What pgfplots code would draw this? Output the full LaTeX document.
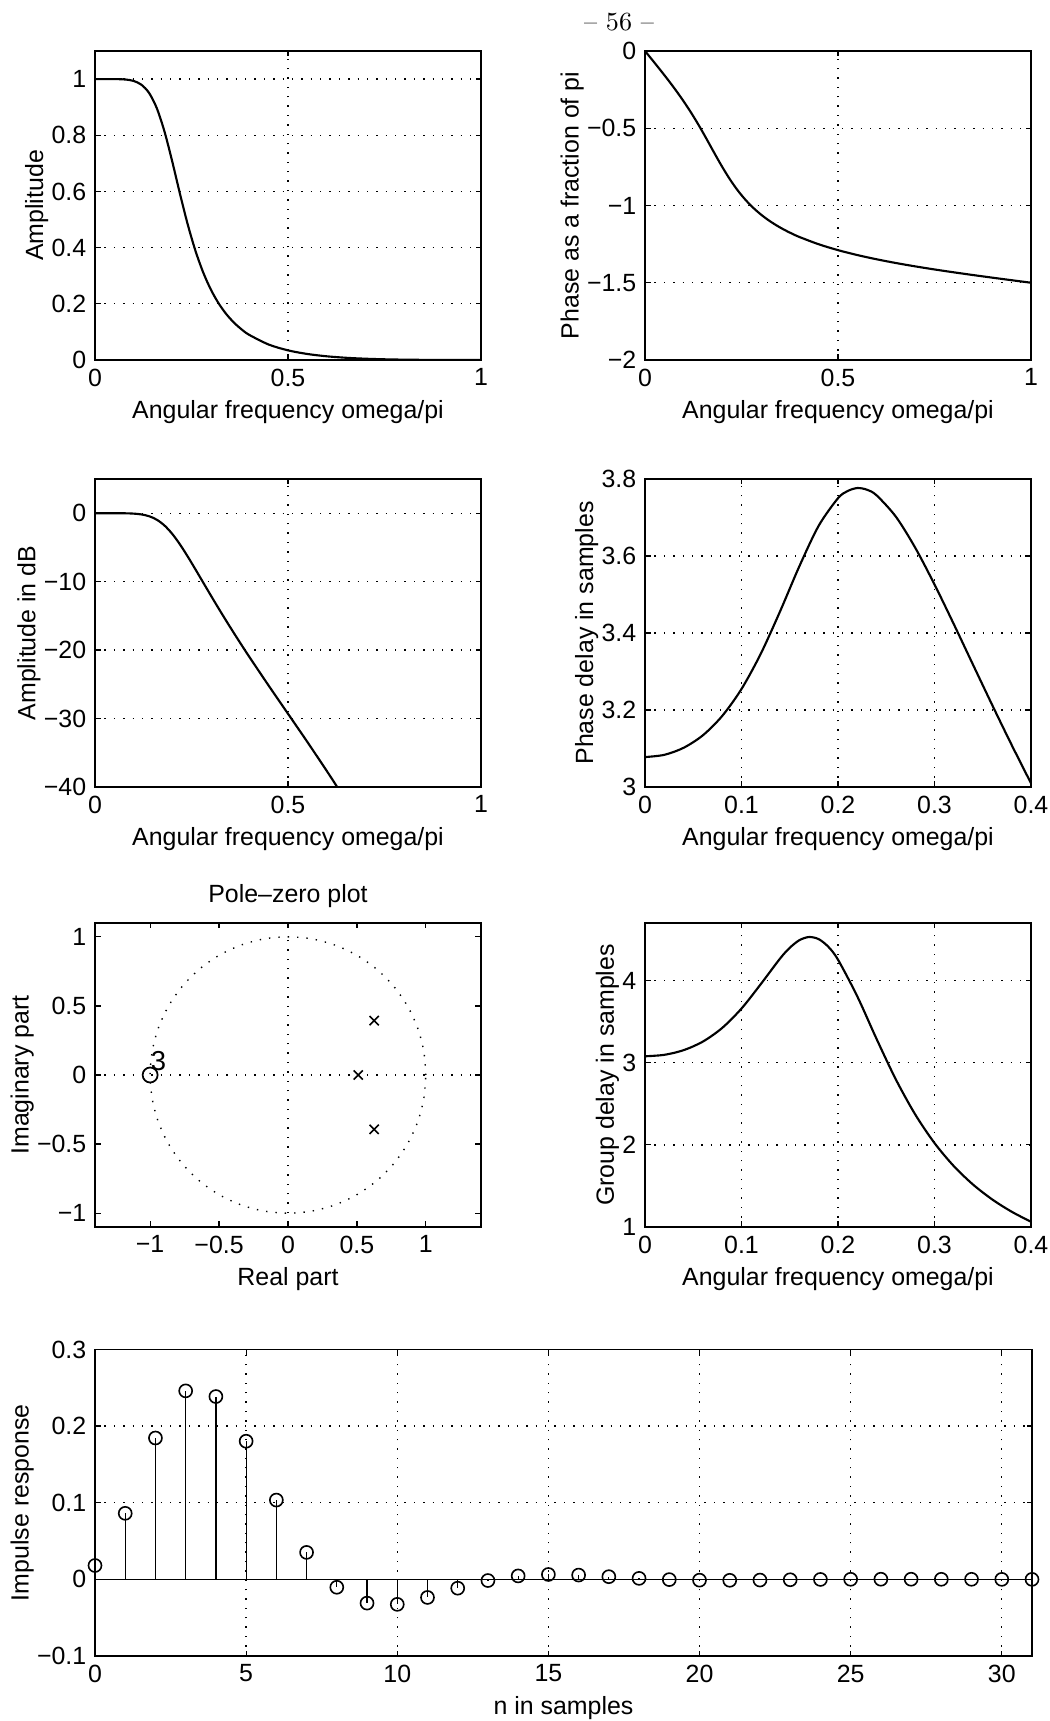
\documentclass[border=0pt]{standalone}
\usepackage{fontspec}
\usepackage{pgfplots}
\pgfplotsset{compat=1.18}
\newfontfamily\arial{Liberation Sans}
\newcommand\lab{\arial\fontsize{10}{12}\selectfont}
\pgfplotsset{
 mat/.style={
  scale only axis, width=154.4bp, anchor=south west,
  axis line style={line width=0.6bp},
  tick align=inside, major tick length=2.2bp,
  tick style={black, line width=0.5bp},
  xtick pos=both, ytick pos=both,
  xmajorgrids, ymajorgrids,
  major grid style={black, line width=0.55bp, dash pattern=on 0.55bp off 3.2bp},
  tick label style={font=\lab},
  label style={font=\lab},
  ylabel shift=-5.5bp, xlabel shift=-1.2bp,
  every axis title/.style={at={(0.5,1)}, anchor=base, yshift=8bp, font=\lab},
  every axis plot/.append style={black, line width=0.85bp},
 }
}
\begin{document}
\begin{tikzpicture}
\path[use as bounding box] (0bp,0bp) rectangle (420bp,688.4bp);
\node[font=\fontsize{10.5}{12}\selectfont, anchor=base] at (247.6bp,676.3bp) {\textendash\ 56 \textendash};

% 1 Amplitude
\begin{axis}[mat, at={(38bp,544.4bp)}, height=123.6bp,
  xmin=0, xmax=1, ymin=0, ymax=1.1,
  xtick={0,0.5,1}, xticklabels={0,0.5,1},
  ytick={0,0.2,0.4,0.6,0.8,1}, yticklabels={0,0.2,0.4,0.6,0.8,1},
  xlabel={Angular frequency omega/pi}, ylabel={Amplitude}]
\addplot[smooth] coordinates {(0,1) (0.02,1) (0.04,0.99997) (0.06,0.9997) (0.08,0.99828) (0.10,0.9934) (0.12,0.98013) (0.14,0.95083) (0.16,0.89668) (0.18,0.81336) (0.20,0.70711) (0.22,0.59229) (0.24,0.48372) (0.26,0.38982) (0.28,0.3127) (0.30,0.25102) (0.32,0.20219) (0.34,0.16361) (0.36,0.13302) (0.38,0.10864) (0.40,0.08909) (0.45,0.05498) (0.50,0.03428) (0.55,0.02137) (0.60,0.01316) (0.65,0.00789) (0.70,0.00454) (0.75,0.00244) (0.80,0.00118) (0.85,0.00048) (0.90,0.00014) (0.95,0.00002) (1,0)};
\end{axis}

% 2 Phase
\begin{axis}[mat, at={(258bp,544.4bp)}, height=123.6bp,
  xmin=0, xmax=1, ymin=-2, ymax=0,
  xtick={0,0.5,1}, xticklabels={0,0.5,1},
  ytick={-2,-1.5,-1,-0.5,0}, yticklabels={−2,−1.5,−1,−0.5,0},
  xlabel={Angular frequency omega/pi}, ylabel={Phase as a fraction of pi}]
\addplot[smooth] coordinates {(0,0) (0.02,-0.06167) (0.04,-0.12407) (0.06,-0.18806) (0.08,-0.25476) (0.10,-0.32545) (0.12,-0.40155) (0.14,-0.48389) (0.16,-0.57177) (0.18,-0.66215) (0.20,-0.75) (0.22,-0.83082) (0.24,-0.90179) (0.26,-0.96253) (0.28,-1.01405) (0.30,-1.05784) (0.32,-1.09537) (0.34,-1.12786) (0.36,-1.15629) (0.38,-1.18143) (0.40,-1.20389) (0.45,-1.25107) (0.50,-1.28909) (0.55,-1.32087) (0.60,-1.34823) (0.65,-1.37237) (0.70,-1.39411) (0.75,-1.41406) (0.80,-1.43267) (0.85,-1.45029) (0.90,-1.46723) (0.95,-1.48372) (1,-1.5)};
\end{axis}

% 3 dB
\begin{axis}[mat, at={(38bp,373.6bp)}, height=123.2bp,
  xmin=0, xmax=1, ymin=-40, ymax=5,
  xtick={0,0.5,1}, xticklabels={0,0.5,1},
  ytick={-40,-30,-20,-10,0}, yticklabels={−40,−30,−20,−10,0},
  xlabel={Angular frequency omega/pi}, ylabel={Amplitude in dB}]
\addplot[smooth] coordinates {(0,0) (0.02,0) (0.04,-0.0002) (0.06,-0.0026) (0.08,-0.015) (0.10,-0.0579) (0.12,-0.1743) (0.14,-0.4379) (0.16,-0.9474) (0.18,-1.7943) (0.20,-3.0103) (0.22,-4.5492) (0.24,-6.3081) (0.26,-8.1828) (0.28,-10.0974) (0.30,-12.0059) (0.32,-13.8848) (0.34,-15.724) (0.36,-17.5219) (0.38,-19.2801) (0.40,-21.0037) (0.45,-25.1964) (0.50,-29.2985) (0.55,-33.4055) (0.60,-37.6185) (0.62,-39.344) (0.6273,-40)};
\end{axis}

% 4 Phase delay
\begin{axis}[mat, at={(258bp,373.6bp)}, height=123.2bp,
  xmin=0, xmax=0.4, ymin=3, ymax=3.8,
  xtick={0,0.1,0.2,0.3,0.4}, xticklabels={0,0.1,0.2,0.3,0.4},
  ytick={3,3.2,3.4,3.6,3.8}, yticklabels={3,3.2,3.4,3.6,3.8},
  xlabel={Angular frequency omega/pi}, ylabel={Phase delay in samples}]
\addplot[smooth] coordinates {(0,3.0777) (0.02,3.0835) (0.04,3.1018) (0.06,3.1343) (0.08,3.1845) (0.10,3.2545) (0.12,3.3462) (0.14,3.4563) (0.16,3.5735) (0.18,3.6786) (0.20,3.75) (0.21,3.7687) (0.22,3.7765) (0.23,3.7722) (0.24,3.7575) (0.26,3.7020) (0.28,3.6216) (0.30,3.5261) (0.32,3.4230) (0.34,3.3172) (0.36,3.2119) (0.38,3.1090) (0.40,3.0097)};
\end{axis}

% 5 Pole-zero
\begin{axis}[mat, at={(38bp,197.6bp)}, height=121.6bp,
  xmin=-1.4, xmax=1.4, ymin=-1.1, ymax=1.1,
  xmajorgrids=false, ymajorgrids=false,
  xtick={-1,-0.5,0,0.5,1}, xticklabels={−1,−0.5,0,0.5,1},
  ytick={-1,-0.5,0,0.5,1}, yticklabels={−1,−0.5,0,0.5,1},
  title={Pole\textendash zero plot},
  xlabel={Real part}, ylabel={Imaginary part}]
\addplot[line width=0.55bp, dash pattern=on 0.55bp off 3.2bp, smooth] coordinates {(1,0) (0.9848,0.1736) (0.9397,0.3420) (0.8660,0.5) (0.7660,0.6428) (0.6428,0.7660) (0.5,0.8660) (0.3420,0.9397) (0.1736,0.9848) (0,1) (-0.1736,0.9848) (-0.3420,0.9397) (-0.5,0.8660) (-0.6428,0.7660) (-0.7660,0.6428) (-0.8660,0.5) (-0.9397,0.3420) (-0.9848,0.1736) (-1,0) (-0.9848,-0.1736) (-0.9397,-0.3420) (-0.8660,-0.5) (-0.7660,-0.6428) (-0.6428,-0.7660) (-0.5,-0.8660) (-0.3420,-0.9397) (-0.1736,-0.9848) (0,-1) (0.1736,-0.9848) (0.3420,-0.9397) (0.5,-0.8660) (0.6428,-0.7660) (0.7660,-0.6428) (0.8660,-0.5) (0.9397,-0.3420) (0.9848,-0.1736) (1,0)};
\addplot[line width=0.55bp, dash pattern=on 0.55bp off 3.2bp] coordinates {(-1.4,0) (1.4,0)};
\addplot[line width=0.55bp, dash pattern=on 0.55bp off 3.2bp] coordinates {(0,-1) (0,1)};
\addplot[only marks, mark=o, mark size=3bp, line width=0.7bp] coordinates {(-1,0)};
\addplot[only marks, mark=x, mark size=2.6bp, line width=0.65bp] coordinates {(0.5095,0) (0.6253,0.3934) (0.6253,-0.3934)};
\node[font=\arial\fontsize{11}{12}\selectfont] at (axis cs:-0.94,0.1) {3};
\end{axis}

% 6 Group delay
\begin{axis}[mat, at={(258bp,197.6bp)}, height=121.6bp,
  xmin=0, xmax=0.4, ymin=1, ymax=4.7,
  xtick={0,0.1,0.2,0.3,0.4}, xticklabels={0,0.1,0.2,0.3,0.4},
  ytick={1,2,3,4}, yticklabels={1,2,3,4},
  xlabel={Angular frequency omega/pi}, ylabel={Group delay in samples}]
\addplot[smooth] coordinates {(0,3.0777) (0.02,3.0954) (0.04,3.1520) (0.06,3.2568) (0.08,3.4228) (0.10,3.6588) (0.12,3.9564) (0.14,4.2678) (0.15,4.3981) (0.16,4.4908) (0.17,4.5294) (0.18,4.5033) (0.19,4.4101) (0.20,4.2533) (0.22,3.8066) (0.24,3.2881) (0.26,2.7947) (0.28,2.3701) (0.30,2.0217) (0.32,1.7411) (0.34,1.5158) (0.36,1.3338) (0.38,1.1856) (0.40,1.0636)};
\end{axis}

% 7 Impulse response
\begin{axis}[mat, at={(38bp,26bp)}, width=374.8bp, height=122.6bp,
  xmin=0, xmax=31, ymin=-0.1, ymax=0.3,
  xtick={0,5,10,15,20,25,30}, xticklabels={0,5,10,15,20,25,30},
  ytick={-0.1,0,0.1,0.2,0.3}, yticklabels={−0.1,0,0.1,0.2,0.3},
  xlabel={n in samples}, ylabel={Impulse response}]
\addplot[line width=0.5bp] coordinates {(0,0) (31,0)};
\addplot[ycomb, line width=0.5bp, mark=o, mark size=2.6bp, mark options={line width=0.65bp}] coordinates {(0,0.0181) (1,0.0862) (2,0.1845) (3,0.2460) (4,0.2386) (5,0.1803) (6,0.1035) (7,0.0352) (8,-0.0103) (9,-0.0310) (10,-0.0326) (11,-0.0236) (12,-0.0115) (13,-0.0015) (14,0.0045) (15,0.0064) (16,0.0056) (17,0.0035) (18,0.0013) (19,-0.0003) (20,-0.0010) (21,-0.0012) (22,-0.0009) (23,-0.0005) (24,-0.0001) (25,0.0001) (26,0.0002) (27,0.0002) (28,0.0001) (29,0.0001) (30,0) (31,0)};
\end{axis}
\end{tikzpicture}
\end{document}
